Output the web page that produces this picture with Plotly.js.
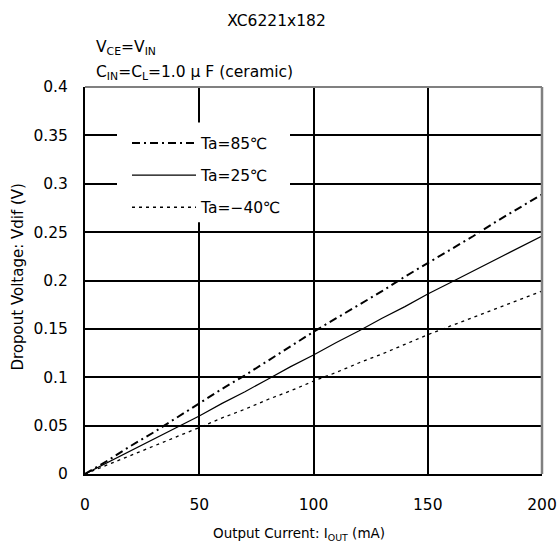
<!DOCTYPE html>
<html>
<head>
<meta charset="utf-8">
<script src="https://cdn.plot.ly/plotly-3.0.1.min.js"></script>
<style>html,body{margin:0;padding:0;background:#fff;}#chart{width:560px;height:544px;}</style>
</head>
<body>
<div id="chart"></div>
<script>
// Data
const current = [0, 10, 20, 30, 40, 50, 60, 70, 80, 90, 100, 110, 120, 130, 140, 150, 160, 170, 180, 190, 200];
const vdif85 = [0, 0.014, 0.029, 0.043, 0.058, 0.073, 0.088, 0.102, 0.117, 0.132, 0.147, 0.161, 0.175, 0.189, 0.204, 0.218, 0.232, 0.246, 0.261, 0.275, 0.289];
const vdif25 = [0, 0.012, 0.024, 0.036, 0.048, 0.060, 0.073, 0.085, 0.098, 0.111, 0.123, 0.136, 0.148, 0.161, 0.173, 0.186, 0.198, 0.210, 0.222, 0.234, 0.246];
const vdifM40 = [0, 0.0095, 0.019, 0.029, 0.038, 0.048, 0.058, 0.067, 0.077, 0.086, 0.096, 0.105, 0.115, 0.124, 0.134, 0.144, 0.153, 0.162, 0.171, 0.180, 0.189];
const seriesNames = ['Ta=85\u2103', 'Ta=25\u2103', 'Ta=\u221240\u2103'];
const xTicks = [0, 50, 100, 150, 200];
const yTicks = [0, 0.05, 0.1, 0.15, 0.2, 0.25, 0.3, 0.35, 0.4];

const FONT = 'DejaVu Sans, Noto Sans CJK JP, sans-serif';
const FS = 15.5;

const traces = [
  {x: current, y: vdif85, name: seriesNames[0], legendgroup: 'a', mode: 'lines',
   line: {color: '#000', width: 2, dash: '8px,4px,2px,4px'}},
  {x: current, y: vdif25, name: seriesNames[1], legendgroup: 'b', mode: 'lines',
   line: {color: '#000', width: 1.2}},
  {x: current, y: vdifM40, name: seriesNames[2], legendgroup: 'c', mode: 'lines',
   line: {color: '#000', width: 1.3, dash: '3px,4px'}}
];

const PL = 85, PR = 542, PT = 86.5, PB = 474.5;
const W = 560, H = 544;
const px2x = p => (p - PL) / (PR - PL);
const py2y = p => (PB - p) / (PB - PT);
const txt = {family: FONT, size: FS, color: '#000'};

const layout = {
  width: W, height: H,
  margin: {l: PL, r: W - PR, t: PT, b: H - PB, pad: 0},
  paper_bgcolor: '#fff', plot_bgcolor: '#fff',
  font: txt,
  showlegend: true,
  title: {text: 'XC6221x182', font: txt,
          xref: 'container', x: 276.5 / W, xanchor: 'center',
          yref: 'container', y: 1 - 21 / H, yanchor: 'middle'},
  xaxis: {range: [0, 200], tickvals: xTicks, ticktext: xTicks.map(String),
          showgrid: true, gridcolor: '#000', gridwidth: 2, zeroline: false,
          showline: true, linecolor: '#000', linewidth: 2,
          ticks: '', ticklabelstandoff: 15, fixedrange: true, tickfont: txt},
  yaxis: {range: [0, 0.4], tickvals: yTicks, ticktext: yTicks.map(String),
          showgrid: true, gridcolor: '#000', gridwidth: 2, zeroline: false,
          showline: true, linecolor: '#000', linewidth: 2,
          ticks: '', ticklabelstandoff: 12, fixedrange: true, tickfont: txt},
  legend: {x: px2x(127), y: py2y(126), xanchor: 'left', yanchor: 'top',
           bgcolor: 'rgba(0,0,0,0)', borderwidth: 0, itemwidth: 64, tracegroupgap: 9,
           font: txt},
  shapes: [
    // white backing of the legend box (the curves never reach this area)
    {type: 'rect', xref: 'paper', yref: 'paper', x0: px2x(117), x1: px2x(290),
     y0: py2y(222), y1: py2y(122), fillcolor: '#fff', line: {width: 0}, layer: 'above'},
    {type: 'line', xref: 'paper', yref: 'paper', x0: 0, x1: 1, y0: 1, y1: 1,
     line: {color: '#808080', width: 2}, layer: 'above'},
    {type: 'line', xref: 'paper', yref: 'paper', x0: 1, x1: 1, y0: 0, y1: 1,
     line: {color: '#808080', width: 2.5}, layer: 'above'}
  ],
  annotations: [
    {text: 'V<sub>CE</sub>=V<sub>IN</sub>', xref: 'paper', yref: 'paper',
     x: px2x(94), y: py2y(47.7), xanchor: 'left', yanchor: 'middle', showarrow: false, font: txt},
    {text: 'C<sub>IN</sub>=C<sub>L</sub>=1.0 \u03bc F (ceramic)', xref: 'paper', yref: 'paper',
     x: px2x(94), y: py2y(72.7), xanchor: 'left', yanchor: 'middle', showarrow: false, font: txt},
    {text: 'Output Current: I<sub>OUT</sub> (mA)', xref: 'paper', yref: 'paper',
     x: px2x(299), y: py2y(535), xanchor: 'center', yanchor: 'middle', showarrow: false,
     font: {family: FONT, size: 13.5, color: '#000'}},
    {text: 'Dropout Voltage: Vdif (V)', xref: 'paper', yref: 'paper', textangle: -90,
     x: px2x(18.5), y: py2y(277), xanchor: 'center', yanchor: 'middle', showarrow: false,
     font: {family: FONT, size: 15, color: '#000'}}
  ]
};

Plotly.newPlot('chart', traces, layout, {displayModeBar: false, staticPlot: true});
</script>
</body>
</html>
